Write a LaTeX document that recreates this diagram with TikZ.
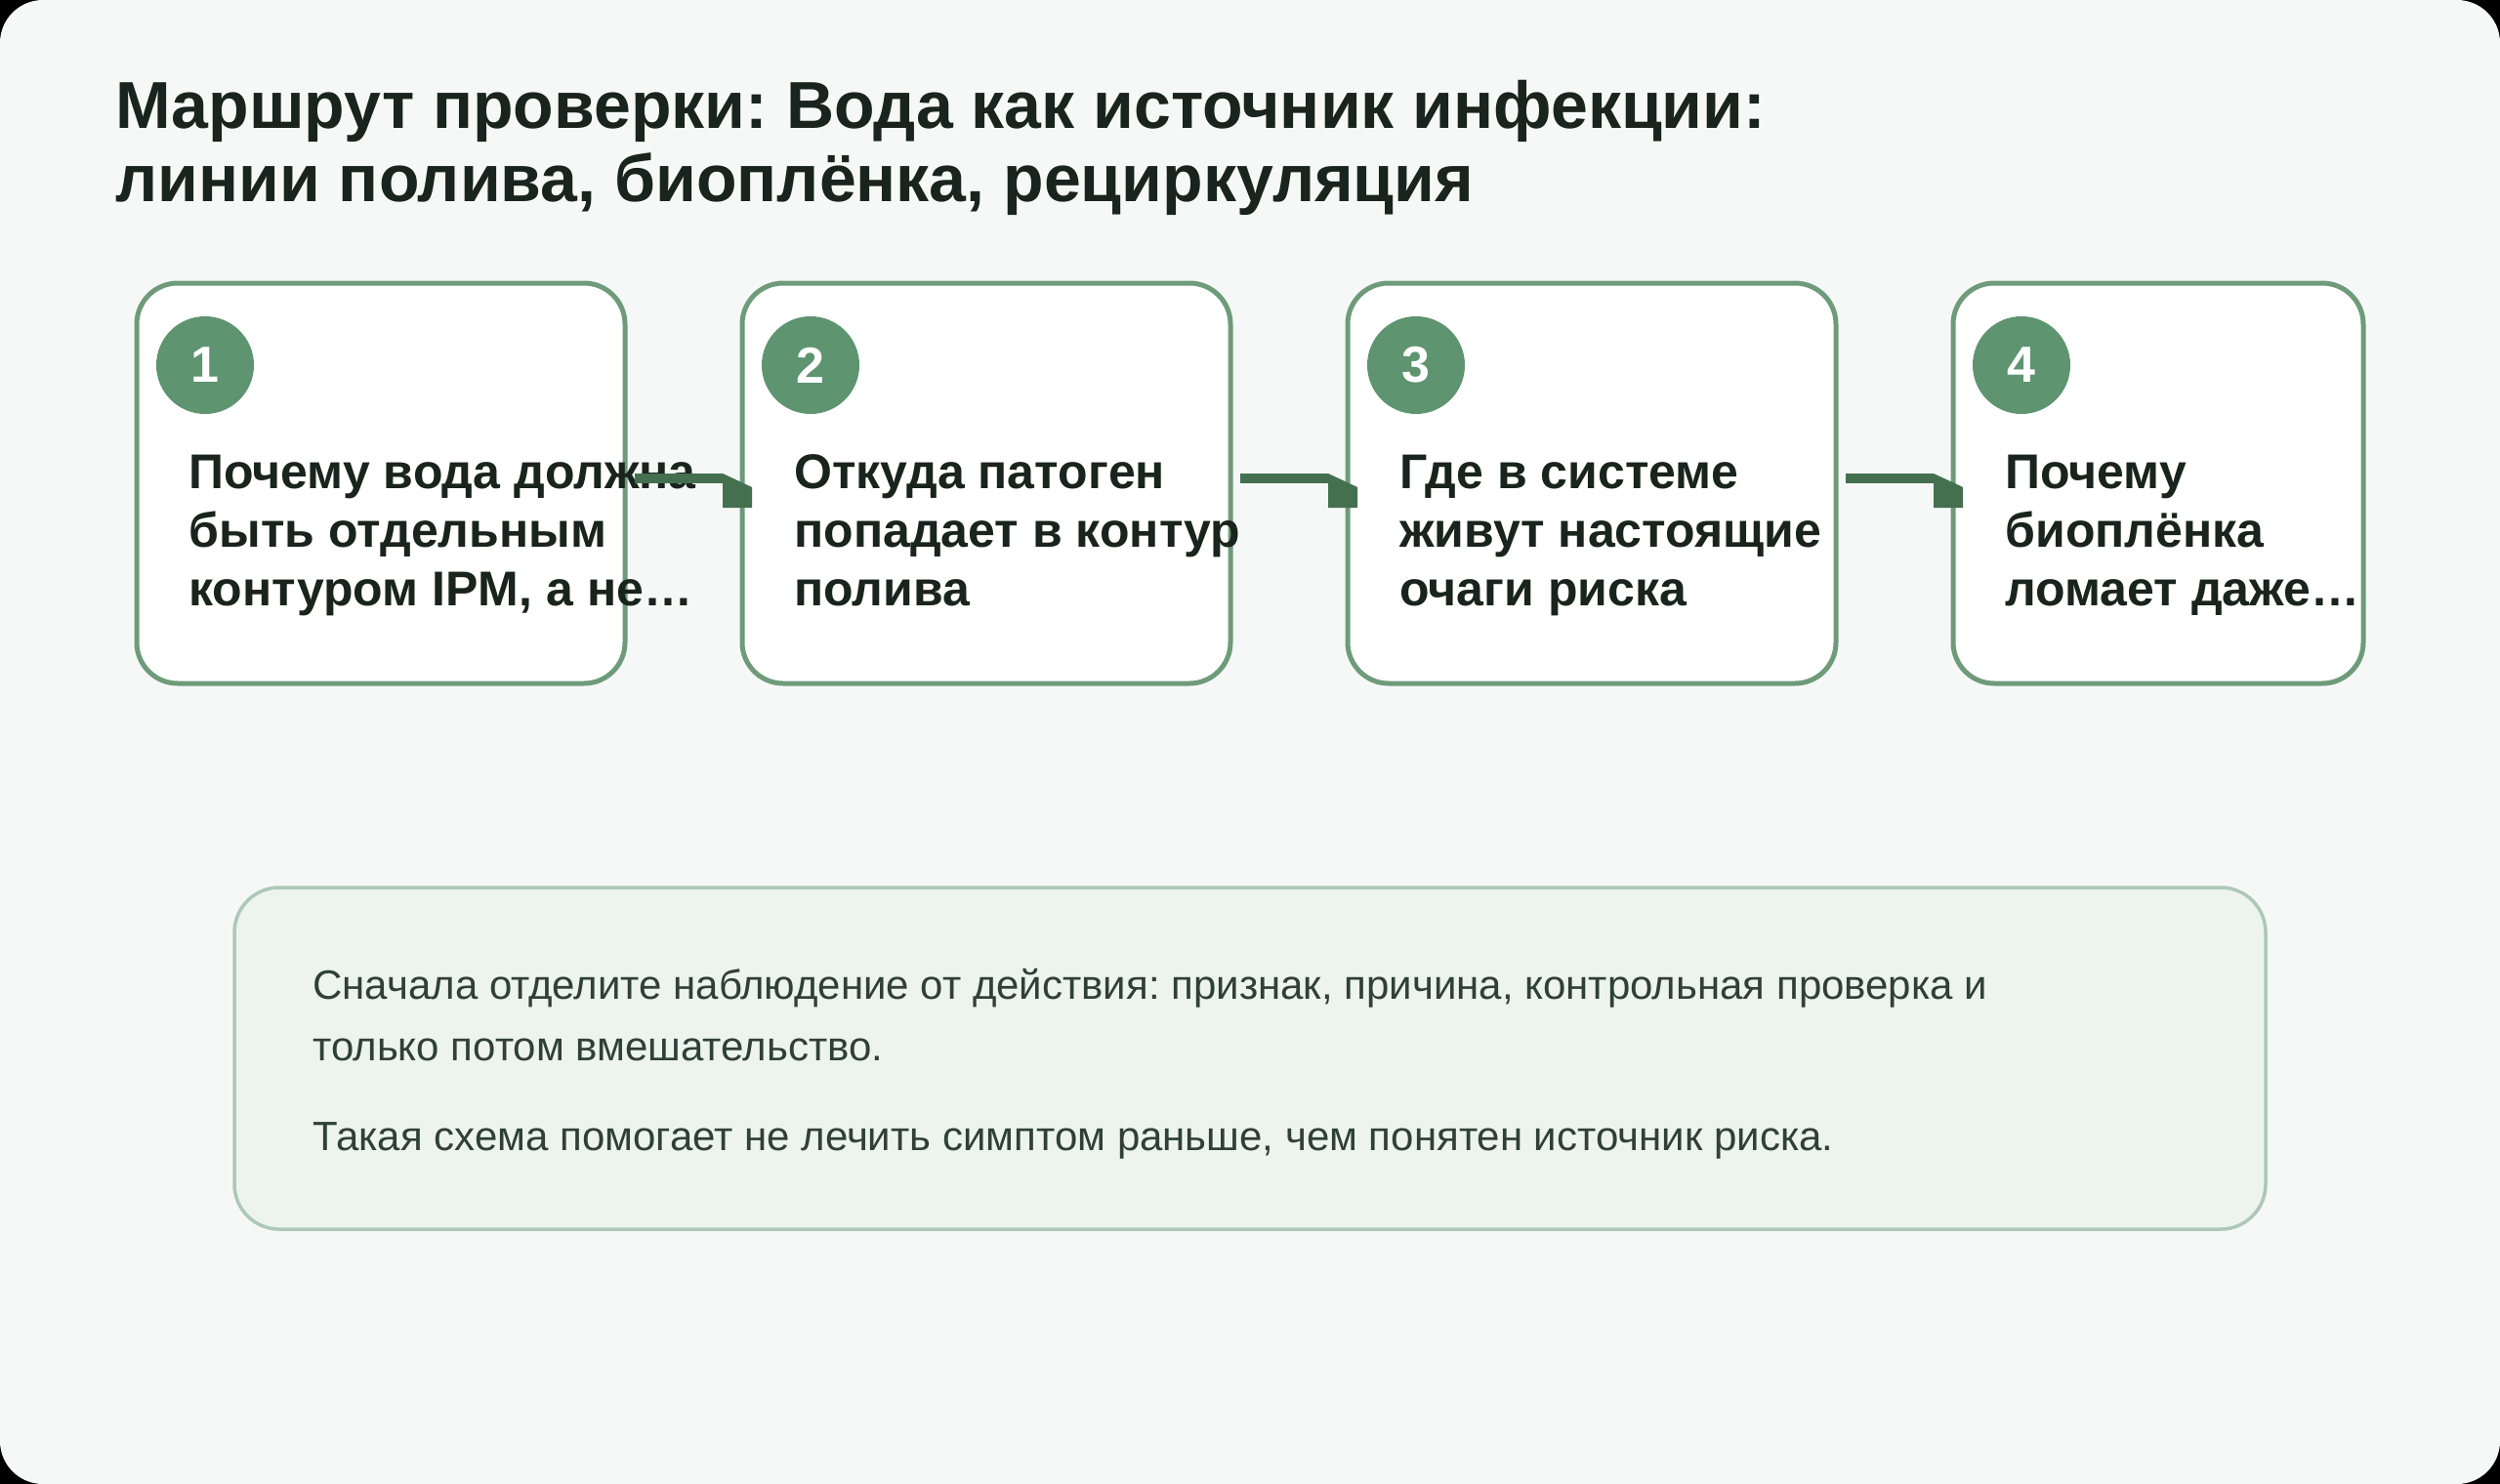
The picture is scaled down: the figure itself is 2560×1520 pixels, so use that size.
\documentclass[tikz,border=0pt]{standalone}
\usepackage{fontspec}
\setmainfont{Liberation Sans}
\usetikzlibrary{positioning}
\definecolor{pagebg}{HTML}{F6F8F7}
\definecolor{ink}{HTML}{18241D}
\definecolor{bodyink}{HTML}{2F4038}
\definecolor{cardline}{HTML}{6E9B79}
\definecolor{badgefill}{HTML}{5E9470}
\definecolor{linkgreen}{HTML}{44704F}
\definecolor{noteline}{HTML}{ADC8B7}
\definecolor{notefill}{HTML}{EDF4EF}
\tikzset{
stepcard/.style={rectangle, draw=cardline, line width=2.5pt, fill=white, rounded corners=21pt,
  minimum width=250pt, minimum height=205pt, anchor=north west, inner sep=0pt, outer sep=0pt},
badge/.style={circle, fill=badgefill, minimum size=50pt, inner sep=0pt, text=white,
  font=\fontsize{26}{30}\selectfont\bfseries},
steptext/.style={anchor=base west, inner sep=0pt, text=ink, font=\fontsize{25}{30}\selectfont\bfseries},
link/.style={draw=linkgreen, line width=5pt},
linkhead/.style={fill=linkgreen}
}

\begin{document}
\frenchspacing
\begin{tikzpicture}[x=0.5pt, y=-0.5pt]
\fill[black] (0,0) rectangle (2560,1520);
\fill[pagebg, rounded corners=22pt] (0,0) rectangle (2560,1520);
\useasboundingbox (0,0) rectangle (2560,1520);

\node[anchor=base west, inner sep=0pt, text=ink, font=\fontsize{34}{37.5}\selectfont\bfseries] (title) at (118,132)
  {\parbox[t]{1200pt}{Маршрут проверки: Вода как источник инфекции:\\линии полива, биоплёнка, рециркуляция}};

\node[stepcard] (c1) at (140,290) {};
\node[stepcard] (c2) at (760,290) {};
\node[stepcard] (c3) at (1380,290) {};
\node[stepcard, minimum width=210pt] (c4) at (2000,290) {};

\node[badge] (b1) at ([shift={(70,84)}]c1.north west) {1};
\node[badge] (b2) at ([shift={(70,84)}]c2.north west) {2};
\node[badge] (b3) at ([shift={(70,84)}]c3.north west) {3};
\node[badge] (b4) at ([shift={(70,84)}]c4.north west) {4};

\node[steptext] (t1) at ([shift={(53,210)}]c1.north west)
  {\parbox[t]{400pt}{Почему вода должна\\быть отдельным\\контуром IPM, а не…}};
\node[steptext] (t2) at ([shift={(53,210)}]c2.north west)
  {\parbox[t]{400pt}{Откуда патоген\\попадает в контур\\полива}};
\node[steptext] (t3) at ([shift={(53,210)}]c3.north west)
  {\parbox[t]{400pt}{Где в системе\\живут настоящие\\очаги риска}};
\node[steptext] (t4) at ([shift={(53,210)}]c4.north west)
  {\parbox[t]{400pt}{Почему\\биоплёнка\\ломает даже…}};

\draw[link] ([shift={(10,-5)}]c1.east) -- ([shift={(-20,-5)}]c2.west);
\fill[linkhead] ([shift={(-20,-10)}]c2.west) -- ([shift={(10,4)}]c2.west) -- ([shift={(10,25)}]c2.west) -- ([shift={(-20,25)}]c2.west) -- cycle;
\draw[link] ([shift={(10,-5)}]c2.east) -- ([shift={(-20,-5)}]c3.west);
\fill[linkhead] ([shift={(-20,-10)}]c3.west) -- ([shift={(10,4)}]c3.west) -- ([shift={(10,25)}]c3.west) -- ([shift={(-20,25)}]c3.west) -- cycle;
\draw[link] ([shift={(10,-5)}]c3.east) -- ([shift={(-20,-5)}]c4.west);
\fill[linkhead] ([shift={(-20,-10)}]c4.west) -- ([shift={(10,4)}]c4.west) -- ([shift={(10,25)}]c4.west) -- ([shift={(-20,25)}]c4.west) -- cycle;

\node[rectangle, draw=noteline, line width=1.75pt, fill=notefill, rounded corners=23pt, anchor=north west,
  minimum width=1040pt, minimum height=175pt, inner sep=0pt, outer sep=0pt] (note) at (240,909) {};
\node[anchor=base west, inner sep=0pt, text=bodyink, font=\fontsize{21}{31.5}\selectfont] (notetext) at ([shift={(80,114)}]note.north west)
  {\parbox[t]{1000pt}{Сначала отделите наблюдение от действия: признак, причина, контрольная проверка и\\только потом вмешательство.\\[14.5pt]Такая схема помогает не лечить симптом раньше, чем понятен источник риска.}};
\end{tikzpicture}
\end{document}
